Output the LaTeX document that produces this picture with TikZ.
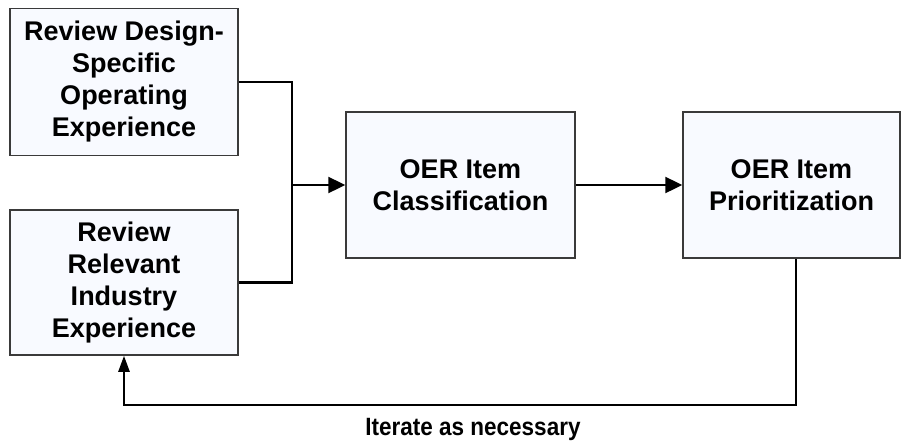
\documentclass[tikz,border=0pt]{standalone}
\usepackage{fontspec}
\setmainfont{Liberation Sans}
\newfontfamily\narrowfont{Liberation Sans}[FakeStretch=0.9]
\usetikzlibrary{arrows.meta}
\definecolor{boxfill}{HTML}{F8FAFF}
\definecolor{boxline}{HTML}{3A3A3A}
\tikzset{
  stepbox/.style={draw=boxline, line width=1.5pt, fill=boxfill, align=center,
    font=\fontsize{27}{32}\selectfont\bfseries, inner sep=0pt},
  link/.style={line width=2.4pt, black},
  headarrow/.style={-{Triangle[length=17pt,width=16pt]}},
  uparrow/.style={-{Triangle[length=16pt,width=11pt]}}
}
\begin{document}
\begin{tikzpicture}[x=1pt,y=-1pt]
\useasboundingbox (0,0) rectangle (902,442);
\fill[white] (0,0) rectangle (902,442);

\node[stepbox, minimum width=228pt, minimum height=147pt] (A) at (124,82)
  {Review Design-\\Specific\\Operating\\Experience};
\node[stepbox, minimum width=228pt, minimum height=145pt] (B) at (124,282.5)
  {Review\\Relevant\\Industry\\Experience};
\node[stepbox, minimum width=229pt, minimum height=146pt] (C) at (460.5,185)
  {OER Item\\Classification};
\node[stepbox, minimum width=217pt, minimum height=146pt] (D) at (791.5,185)
  {OER Item\\Prioritization};

\coordinate (j) at (292,185);
\coordinate (fb) at (796,405);

\draw[link] (A.east) -| (j);
\draw[link] (B.east) -| (j);
\draw[link, headarrow] (j) -- (C.west);
\draw[link, headarrow] (C.east) -- (D.west);
\draw[link, uparrow] (D.south -| fb) -- (fb) -| (B.south);

\node[font=\fontsize{25}{30}\selectfont\narrowfont\bfseries] (lbl) at (473,429)
  {Iterate as necessary};
\end{tikzpicture}
\end{document}
